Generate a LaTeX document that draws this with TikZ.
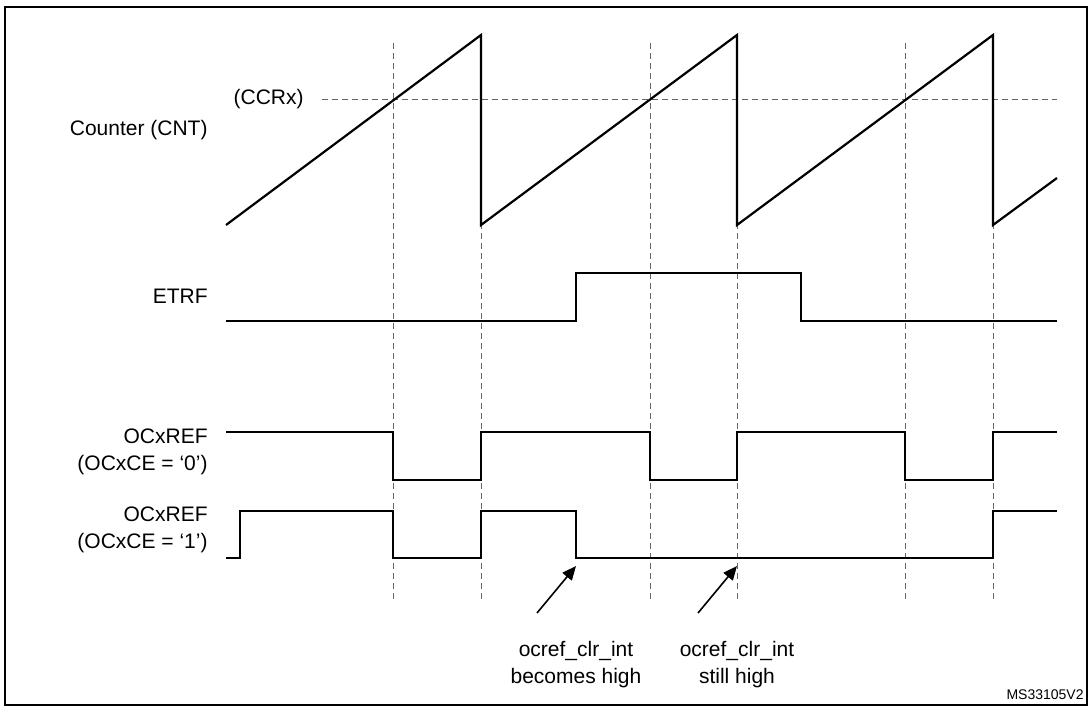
\documentclass[tikz,border=0pt]{standalone}
\usepackage{fontspec}
\setmainfont{Liberation Sans}
\usetikzlibrary{arrows.meta}

\tikzset{
  wave/.style = {line width=1.1pt, line join=miter},
  guide/.style = {densely dashed, line width=0.4pt, gray!80!black},
  siglabel/.style = {anchor=east, align=right, font=\fontsize{10.5}{13.5}\selectfont, inner sep=0pt},
  note/.style = {align=center, font=\fontsize{10.5}{13.5}\selectfont, inner sep=0pt},
  pointer/.style = {line width=0.8pt, -{Triangle[length=7pt,width=6pt]}}
}

\begin{document}
\begin{tikzpicture}[x=0.5pt, y=-0.5pt]
  \useasboundingbox (0,0) rectangle (1088,706);
  \draw [line width=1.2pt] (5,7) rectangle (1087,705);

  % guide lines
  \foreach \gx in {393,481,650,737,905,993}
    \draw [guide] (\gx,43) -- (\gx,602);
  \draw [guide] (322,99) -- (1057,99);

  % signal names
  \node (cnt) [siglabel] at (208,130) {Counter (CNT)};
  \node (ccr) [siglabel] at (304,99) {(CCRx)};
  \node (etrf) [siglabel] at (208,296) {ETRF};
  \node (ref0) [siglabel] at (208,452) {OCxREF\\(OCxCE = ‘0’)};
  \node (ref1) [siglabel] at (208,530) {OCxREF\\(OCxCE = ‘1’)};

  % waveforms
  \draw [wave] (226,225) -- (481,35) -- (481,225) -- (737,35) -- (737,225)
    -- (993,35) -- (993,225) -- (1057,178);
  \draw [wave] (226,321) -- (576,321) -- (576,273) -- (801,273) -- (801,321) -- (1057,321);
  \draw [wave] (226,432) -- (393,432) -- (393,480) -- (481,480) -- (481,432)
    -- (650,432) -- (650,480) -- (737,480) -- (737,432) -- (905,432)
    -- (905,480) -- (993,480) -- (993,432) -- (1057,432);
  \draw [wave] (226,558) -- (240,558) -- (240,511) -- (393,511) -- (393,558)
    -- (481,558) -- (481,511) -- (576,511) -- (576,558) -- (993,558)
    -- (993,511) -- (1057,511);

  % events
  \coordinate (hit1) at (576,566);
  \coordinate (hit2) at (737,566);
  \coordinate (from1) at (537,613);
  \coordinate (from2) at (698,613);
  \draw [pointer] (from1) -- (hit1);
  \draw [pointer] (from2) -- (hit2);
  \node (ev1) [note, anchor=north] at (576,641) {ocref\_clr\_int\\becomes high};
  \node (ev2) [note, anchor=north] at (737,641) {ocref\_clr\_int\\still high};

  \node (tag) [anchor=south east, inner sep=0pt, font=\fontsize{7}{8}\selectfont] at (1084,700) {MS33105V2};
\end{tikzpicture}
\end{document}
